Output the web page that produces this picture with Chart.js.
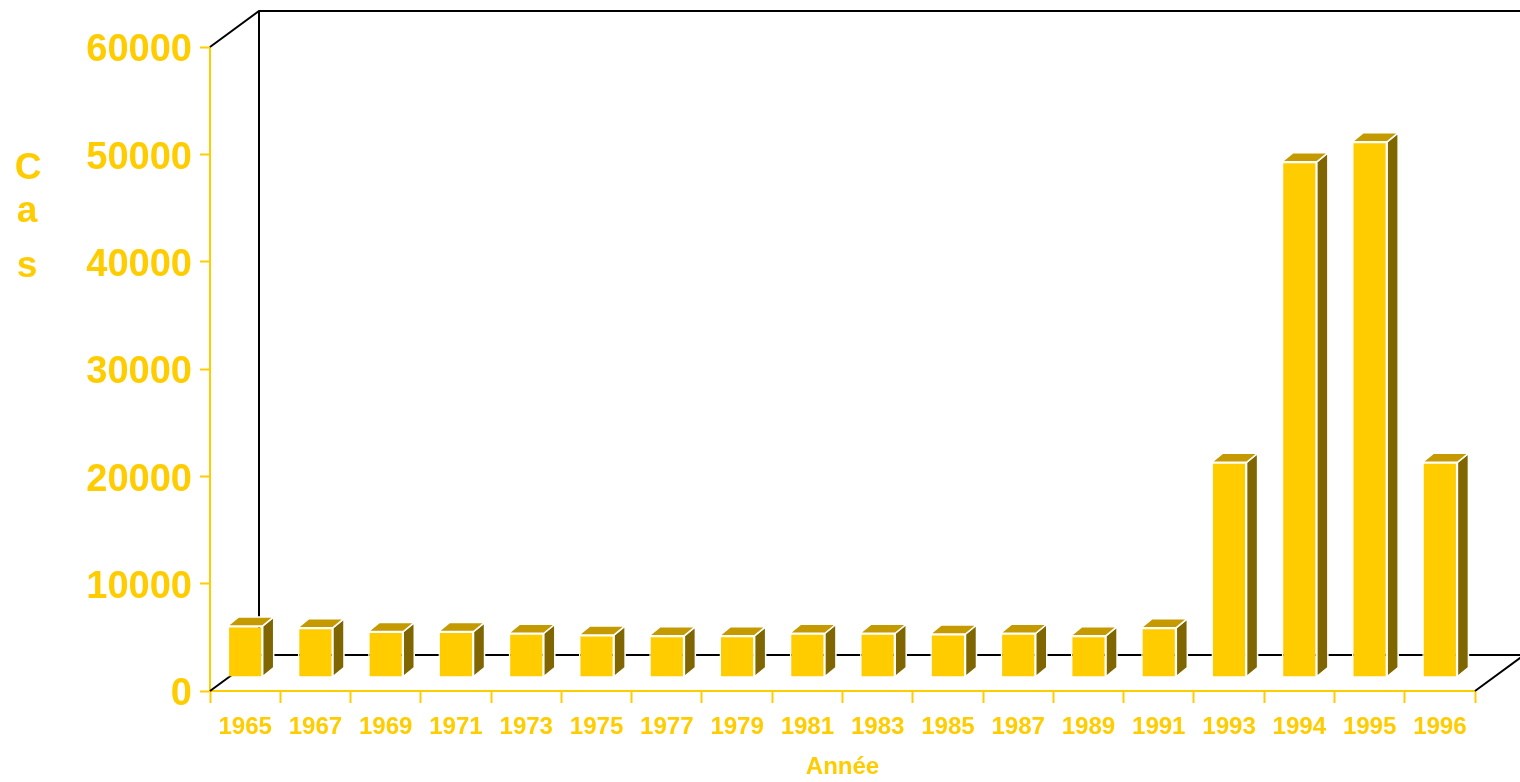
<!DOCTYPE html>
<html>
<head>
<meta charset="utf-8">
<script src="https://cdn.jsdelivr.net/npm/chart.js"></script>
<style>
  body { margin: 0; background: #fff; }
  #wrap { width: 1520px; height: 782px; }
</style>
</head>
<body>
<div id="wrap"><canvas id="cases"></canvas></div>
<script>
const years = ['1965', '1967', '1969', '1971', '1973', '1975', '1977', '1979', '1981',
               '1983', '1985', '1987', '1989', '1991', '1993', '1994', '1995', '1996']
const cases = [4760, 4600, 4230, 4230, 4080, 3920, 3850, 3850, 4080,
               4080, 4010, 4080, 3850, 4600, 20000, 48000, 49860, 20000]
const yTicks = [0, 10000, 20000, 30000, 40000, 50000, 60000]

const yellow = '#FFCC00'
const topColor = '#C49A00'
const sideColor = '#806600'

// depth of the box: back wall offset and bar offset
const wallDX = 49, wallDY = -36
const barShiftY = -14
const barDX = 11, barDY = -9

const box3d = {
  id: 'box3d',
  beforeDatasetsDraw(chart) {
    const c = chart.ctx
    const a = chart.chartArea
    c.save()
    c.strokeStyle = '#000'
    c.lineWidth = 2
    c.beginPath()
    // top left edge + back top
    c.moveTo(a.left, a.top)
    c.lineTo(a.left + wallDX, a.top + wallDY)
    c.lineTo(chart.width + 10, a.top + wallDY)
    // back vertical
    c.moveTo(a.left + wallDX, a.top + wallDY)
    c.lineTo(a.left + wallDX, a.bottom + wallDY)
    // back floor
    c.lineTo(chart.width + 10, a.bottom + wallDY)
    // floor diagonals
    c.moveTo(a.left, a.bottom)
    c.lineTo(a.left + wallDX, a.bottom + wallDY)
    c.moveTo(a.right, a.bottom)
    c.lineTo(a.right + wallDX, a.bottom + wallDY)
    c.stroke()
    c.restore()

    // y title, letters stacked
    c.save()
    c.fillStyle = yellow
    c.font = 'bold 37px "Liberation Sans", Arial, sans-serif'
    c.textAlign = 'center'
    c.fillText('C', 28, 179)
    c.fillText('a', 27, 222)
    c.fillText('s', 27, 277)
    c.restore()

    c.save()
    c.translate(0, barShiftY)
  },
  afterDatasetsDraw(chart) {
    const c = chart.ctx
    const meta = chart.getDatasetMeta(0)
    c.lineWidth = 1.5
    c.strokeStyle = '#fff'
    meta.data.forEach(bar => {
      const p = bar.getProps(['x', 'y', 'base', 'width'], true)
      const l = p.x - p.width / 2
      const r = p.x + p.width / 2
      // side face
      c.fillStyle = sideColor
      c.beginPath()
      c.moveTo(r, p.y)
      c.lineTo(r + barDX, p.y + barDY)
      c.lineTo(r + barDX, p.base + barDY)
      c.lineTo(r, p.base)
      c.closePath()
      c.fill()
      c.stroke()
      // top face
      c.fillStyle = topColor
      c.beginPath()
      c.moveTo(l, p.y)
      c.lineTo(l + barDX, p.y + barDY)
      c.lineTo(r + barDX, p.y + barDY)
      c.lineTo(r, p.y)
      c.closePath()
      c.fill()
      c.stroke()
    })
    c.restore()
  }
}

new Chart(document.getElementById('cases'), {
  type: 'bar',
  data: {
    labels: years,
    datasets: [{
      data: cases,
      backgroundColor: yellow,
      borderColor: '#fff',
      borderWidth: 1.5,
      barPercentage: 0.5,
      categoryPercentage: 1,
      clip: false
    }]
  },
  options: {
    responsive: true,
    maintainAspectRatio: false,
    animation: false,
    layout: { padding: { top: 47, right: 45, left: 0, bottom: 0 } },
    plugins: {
      legend: { display: false },
      tooltip: { enabled: false }
    },
    scales: {
      x: {
        afterFit: s => { s.height = 91 },
        grid: { drawOnChartArea: false, color: yellow, tickLength: 12, tickWidth: 2 },
        border: { color: yellow, width: 2 },
        ticks: {
          color: yellow,
          padding: 10,
          maxRotation: 0,
          font: { family: '"Liberation Sans", Arial, sans-serif', size: 24, weight: 'bold' }
        },
        title: {
          display: true,
          text: 'Année',
          color: yellow,
          padding: { top: 0, bottom: 0 },
          font: { family: '"Liberation Sans", Arial, sans-serif', size: 24, weight: 'bold' }
        }
      },
      y: {
        min: 0,
        max: 60000,
        afterFit: s => { s.width = 210 },
        afterBuildTicks: s => { s.ticks = yTicks.map(v => ({ value: v })) },
        grid: { drawOnChartArea: false, color: yellow, tickLength: 10, tickWidth: 2 },
        border: { color: yellow, width: 2 },
        ticks: {
          color: yellow,
          padding: 8,
          labelOffset: 4,
          callback: v => String(v),
          font: { family: '"Liberation Sans", Arial, sans-serif', size: 38, weight: 'bold' }
        }
      }
    }
  },
  plugins: [box3d]
})
</script>
</body>
</html>
